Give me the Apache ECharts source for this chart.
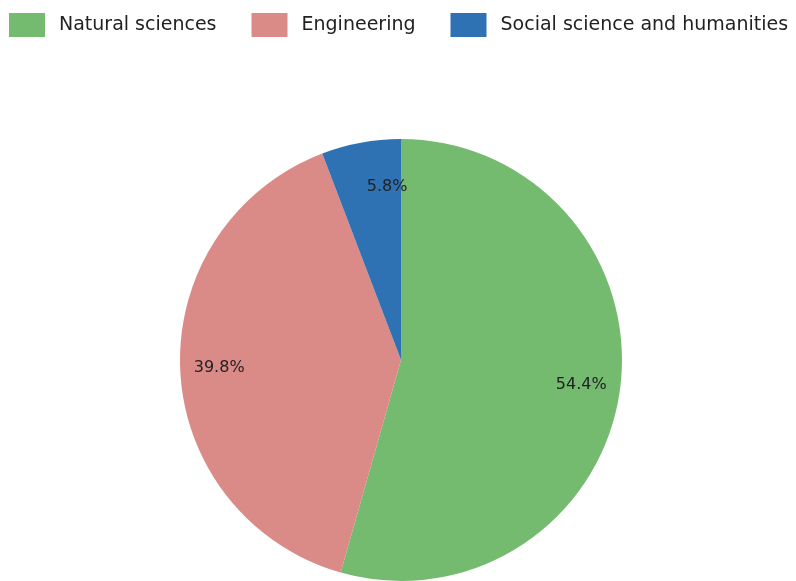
<!DOCTYPE html>
<html>
<head>
<meta charset="utf-8">
<script src="https://cdn.jsdelivr.net/npm/echarts@6/dist/echarts.min.js"></script>
<style>
  html, body { margin: 0; padding: 0; background: #fff; }
  #chart { width: 796px; height: 581px; }
</style>
</head>
<body>
<div id="chart"></div>
<script>
// Share of each field, in percent
const categories = ['Natural sciences', 'Engineering', 'Social science and humanities'];
const shares = [54.4, 39.8, 5.8];
const colors = ['#74bb6f', '#da8a87', '#2e72b4'];

const pieData = categories.map((name, i) => ({
  name: name,
  value: shares[i],
  itemStyle: { color: colors[i] }
}));

// the narrow slice gets its label nudged towards its wider side
const labelNudge = { 'Social science and humanities': [19, 6] };

const font = '"DejaVu Sans", sans-serif';
const chart = echarts.init(document.getElementById('chart'), null, { renderer: 'canvas' });

chart.setOption({
  animation: false,
  legend: {
    data: categories,
    left: 9,
    top: 13,
    padding: 0,
    itemWidth: 36,
    itemHeight: 24,
    itemGap: 35,
    icon: 'rect',
    textStyle: {
      fontFamily: font,
      fontSize: 19,
      color: '#222',
      padding: [0, 0, 0, 9]
    }
  },
  series: [
    {
      // the slices themselves
      type: 'pie',
      center: [401, 360],
      radius: 221,
      startAngle: 90,
      clockwise: true,
      label: { show: false },
      labelLine: { show: false },
      emphasis: { disabled: true },
      data: pieData
    },
    {
      // transparent ring used only to place the percentage labels
      type: 'pie',
      center: [401, 360],
      radius: [137, 221],
      startAngle: 90,
      clockwise: true,
      silent: true,
      legendHoverLink: false,
      itemStyle: { color: 'rgba(0,0,0,0)' },
      label: {
        show: true,
        position: 'inside',
        formatter: p => p.value.toFixed(1) + '%',
        fontFamily: font,
        fontSize: 16,
        color: '#222'
      },
      labelLine: { show: false },
      emphasis: { disabled: true },
      data: categories.map((name, i) => ({
        name: name,
        value: shares[i],
        label: labelNudge[name] ? { offset: labelNudge[name] } : undefined
      }))
    }
  ]
});
</script>
</body>
</html>
